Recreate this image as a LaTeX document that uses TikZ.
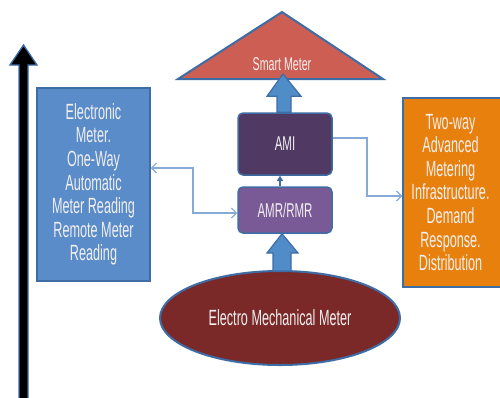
\documentclass[tikz,border=0pt]{standalone}
\usepackage{fontspec}
\setmainfont[FakeStretch=0.575]{Liberation Sans}
\usetikzlibrary{shapes.geometric,arrows.meta,calc}
\definecolor{bxblue}{HTML}{598CC8}
\definecolor{edgeblue}{HTML}{3E6DA6}
\definecolor{orng}{HTML}{E8800E}
\definecolor{trired}{HTML}{CD5E54}
\definecolor{amipurp}{HTML}{503A64}
\definecolor{amrpurp}{HTML}{7A5A96}
\definecolor{ellred}{HTML}{7A2828}
\definecolor{arrblue}{HTML}{508CC8}
\definecolor{connblue}{HTML}{86AAD6}
\definecolor{txt}{HTML}{F2EFEF}
\tikzset{
  sidebox/.style={draw=edgeblue, line width=1.5pt, text=txt, align=center, inner sep=0pt,
    font=\fontsize{22}{23.6}\selectfont},
  midbox/.style={draw=edgeblue, line width=1.5pt, rounded corners=5pt, text=txt, inner sep=0pt,
    minimum width=94pt, font=\fontsize{20}{22}\selectfont},
  conn/.style={draw=connblue, line width=1.1pt},
  barbtip/.tip={Straight Barb[length=5pt, width=10pt, line width=1.1pt]},
  blockarrow/.style={fill=arrblue, draw=edgeblue, line width=1.2pt, line join=miter}
}
\begin{document}
\begin{tikzpicture}[x=1pt,y=-1pt]
\useasboundingbox (0,0) rectangle (500,397);
% time arrow
\draw[fill=black, draw=edgeblue, line width=1.3pt]
  (19,400) -- (19,65) -- (10,65) -- (23.5,45) -- (37,65) -- (28,65) -- (28,400) -- cycle;
% triangle
\draw[fill=trired, draw=edgeblue, line width=2pt, line join=miter]
  (178,79) -- (282,12) -- (383,79) -- cycle;
\coordinate (tribase) at (283,74);
\node[text=txt, font=\fontsize{18.5}{20}\selectfont] (smart) at (282,64) {Smart Meter};
% boxes
\node[sidebox, fill=bxblue, minimum width=113pt, minimum height=193pt] (left) at (93.5,184.5)
  {Electronic\\Meter.\\One-Way\\Automatic\\Meter Reading\\Remote Meter\\Reading};
\node[sidebox, fill=orng, minimum width=100pt, minimum height=189pt, text width=100pt] (orange) at (453,192.5)
  {\hspace*{-5pt}Two-way\\\hspace*{-5pt}Advanced\\\hspace*{-5pt}Metering\\\hspace*{-5pt}Infrastructure.\\\hspace*{-5pt}Demand\\\hspace*{-5pt}Response.\\\hspace*{-5pt}Distribution};
\node[midbox, fill=amipurp, minimum height=62pt] (ami) at (285,144) {AMI};
\node[midbox, fill=amrpurp, minimum height=46pt] (amr) at (285,210) {AMR/RMR};
\node[ellipse, draw=edgeblue, line width=2pt, fill=ellred, minimum width=240pt, minimum height=94pt,
  inner sep=0pt, text=txt, font=\fontsize{22}{23}\selectfont] (mech) at (280,318) {Electro Mechanical Meter};
% block arrows
\draw[blockarrow]
  ($(ami.north)+(-8,0)$) -- ++(0,-16) -- ++(-10,0) -- (tribase) -- ($(ami.north)+(16,-16)$)
  -- ++(-10,0) -- ($(ami.north)+(6,0)$) -- cycle;
\draw[blockarrow]
  ($(mech.north)+(-7,1)$) -- ($(mech.north)+(-7,-17)$) -- ($(mech.north)+(-13,-17)$) -- ($(amr.south)+(-3,0)$)
  -- ($(mech.north)+(18,-17)$) -- ($(mech.north)+(11,-17)$) -- ($(mech.north)+(11,1)$) -- cycle;
% thin arrow AMR -> AMI
\draw[draw=edgeblue, line width=1.4pt, -{Triangle[length=5pt,width=6pt]}] ($(amr.north)+(-5,0)$) -- ($(ami.south)+(-5,0)$);
% connectors
\coordinate (lc1) at (193,168);
\coordinate (lc2) at (193,213);
\draw[conn, barbtip-barbtip] (left.east |- lc1) -- (lc1) -- (lc2) -- (amr.west |- lc2);
\coordinate (rc1) at (367,138);
\coordinate (rc2) at (367,196);
\draw[conn, -barbtip] (ami.east |- rc1) -- (rc1) -- (rc2) -- (orange.west |- rc2);
\end{tikzpicture}
\end{document}
